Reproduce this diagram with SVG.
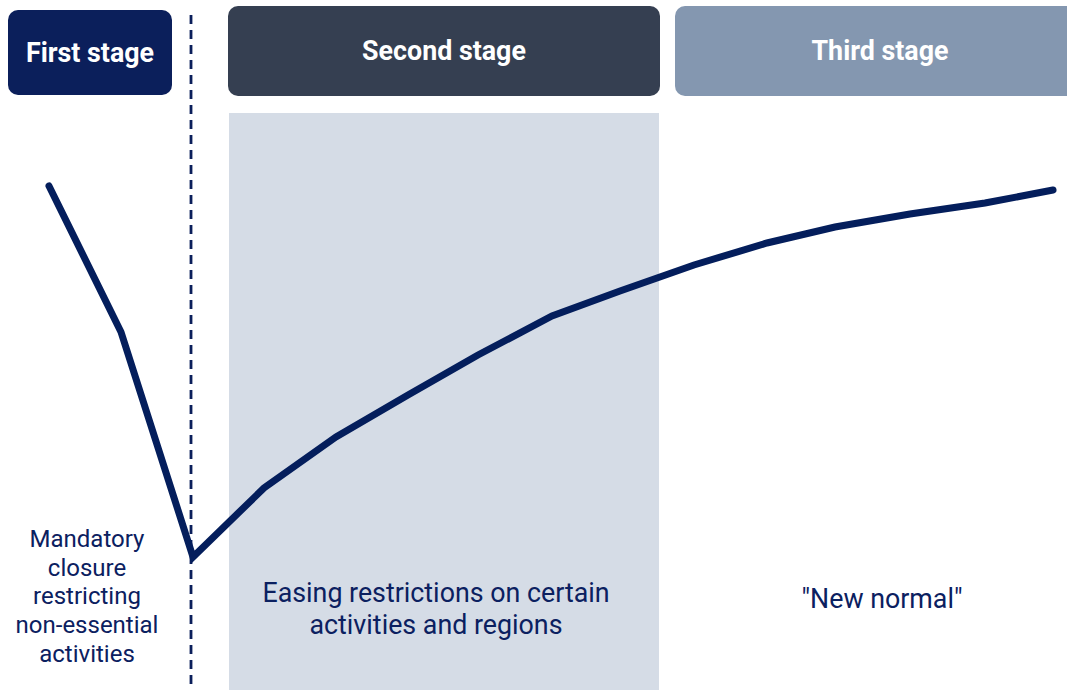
<svg xmlns="http://www.w3.org/2000/svg" width="1067" height="690" viewBox="0 0 1067 690">
  <style>
    .hdr { font-family: Roboto, "Liberation Sans", sans-serif; font-weight: 700; font-size: 26.8px; fill: #ffffff; text-anchor: middle; }
    .lbl { font-family: Roboto, "Liberation Sans", sans-serif; font-size: 24px; fill: #0b2060; text-anchor: middle; }
    .lbl2 { font-family: Roboto, "Liberation Sans", sans-serif; font-size: 26.8px; fill: #0b2060; text-anchor: middle; }
  </style>
  <rect width="1067" height="690" fill="#ffffff"/>

  <!-- shaded band for the second stage -->
  <rect id="band" x="229" y="113" width="430" height="577" fill="#d5dce6"/>

  <!-- stage headers -->
  <g id="stage1">
    <rect x="8" y="10" width="164" height="85" rx="10" fill="#0b1f5b"/>
    <text class="hdr" x="90" y="62">First stage</text>
  </g>
  <g id="stage2">
    <rect x="228" y="6" width="432" height="90" rx="10" fill="#353f51"/>
    <text class="hdr" x="444" y="60">Second stage</text>
  </g>
  <g id="stage3">
    <rect x="675" y="6" width="410" height="90" rx="10" fill="#8497b0"/>
    <text class="hdr" x="880" y="60">Third stage</text>
  </g>

  <!-- connectors: divider and trend line -->
  <g id="connectors">
    <line x1="191" y1="15" x2="191" y2="690" stroke="#0b1f5b" stroke-width="2.8" stroke-dasharray="9 6"/>
    <polyline fill="none" stroke="#041e5c" stroke-width="7" stroke-linecap="round" stroke-linejoin="miter"
      points="49,186 121,332 193,557 264,488 336,437 408,395 478,355 552,316 620,291 694,265 767,243 835,227 910,214 985,203 1053,190"/>
  </g>

  <!-- stage descriptions -->
  <g id="desc1">
    <text class="lbl" x="87" y="547">Mandatory</text>
    <text class="lbl" x="87" y="576">closure</text>
    <text class="lbl" x="87" y="604">restricting</text>
    <text class="lbl" x="87" y="633">non-essential</text>
    <text class="lbl" x="87" y="662">activities</text>
  </g>
  <g id="desc2">
    <text class="lbl2" x="436" y="602">Easing restrictions on certain</text>
    <text class="lbl2" x="436" y="634">activities and regions</text>
  </g>
  <g id="desc3">
    <text class="lbl2" x="882" y="608">"New normal"</text>
  </g>
</svg>
